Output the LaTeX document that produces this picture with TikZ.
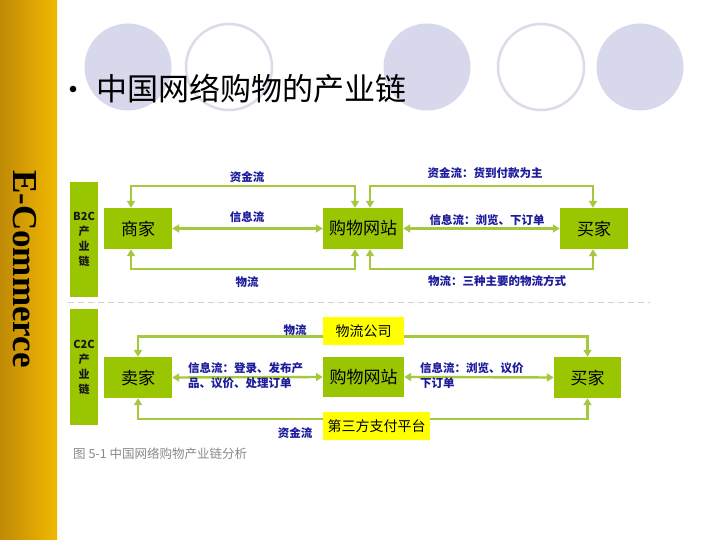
\documentclass[tikz,border=0pt]{standalone}
\usepackage{fontspec}
\setmainfont{Liberation Serif}
\newfontfamily\cjk{Noto Sans CJK SC}
\usetikzlibrary{arrows.meta,calc}
\definecolor{boxgreen}{HTML}{99C600}
\definecolor{linegreen}{HTML}{A6C83C}
\definecolor{boxyellow}{HTML}{FFFF00}
\definecolor{labblue}{HTML}{1C1C9C}
\definecolor{lav}{HTML}{D8D8EC}
\definecolor{lavline}{HTML}{DCDCE8}
\definecolor{goldL}{HTML}{BF8A06}
\definecolor{goldR}{HTML}{F2B800}
\definecolor{capgray}{HTML}{8A8A8A}
\definecolor{dashgray}{HTML}{CFCFCF}
\begin{document}
\begin{tikzpicture}[x=1pt,y=-1pt,
  gbox/.style={fill=boxgreen,draw=none,inner sep=0pt,minimum height=41pt,
    font=\cjk\fontsize{17}{17}\selectfont},
  ybox/.style={fill=boxyellow,draw=none,inner sep=0pt,minimum height=28pt,
    font=\cjk\fontsize{14}{14}\selectfont},
  sidebox/.style={fill=boxgreen,draw=none,inner sep=0pt,minimum width=28pt,
    align=center,text=black!90,font=\cjk\bfseries\fontsize{11}{15}\selectfont},
  flow/.style={draw=linegreen,line width=2.4pt,
    arrows={-Triangle[length=7pt,width=8pt]}},
  flowb/.style={draw=linegreen,line width=2.4pt,
    arrows={Triangle[length=7pt,width=8pt]-Triangle[length=7pt,width=8pt]}},
  lab/.style={text=labblue,inner sep=0pt,font=\cjk\bfseries\fontsize{11.5}{15.5}\selectfont},
  fullcirc/.style={fill=lav,draw=none},
  ringcirc/.style={draw=lavline,line width=2.5pt,fill=white}
]
\useasboundingbox (0,0) rectangle (720,540);
\fill[white] (0,0) rectangle (720,540);
% left gold bar
\shade[left color=goldL,right color=goldR] (0,0) rectangle (57,540);
\node[rotate=-90,inner sep=0pt,font=\bfseries\fontsize{35}{35}\selectfont] (ecom) at (25,269) {E-Commerce};
% decorative circles
\fill[fullcirc] (128,67) circle (43.5);
\draw[ringcirc] (229,67) circle (43);
\fill[fullcirc] (427,67) circle (43.5);
\draw[ringcirc] (541,67) circle (43);
\fill[fullcirc] (640,67) circle (43.5);
% title
\fill (73,89) circle (3.3);
\node[anchor=west,inner sep=0pt,font=\cjk\fontsize{31}{31}\selectfont] (title) at (96,89) {中国网络购物的产业链};

% ---------- B2C ----------
\node[sidebox,minimum height=115pt] (b2c) at (84,239.5) {B2C\\产\\业\\链};
\node[gbox,minimum width=68pt] (sj) at (138,228.5) {商家};
\node[gbox,minimum width=80pt] (gw1) at (363,228.5) {购物网站};
\node[gbox,minimum width=68pt] (mj1) at (594,228.5) {买家};

\coordinate (rowA) at (0,186);
\coordinate (rowB) at (0,269);
\coordinate (a1) at ($(sj.north)+(-7,0)$);
\coordinate (b1) at ($(gw1.north)+(-8,0)$);
\coordinate (c1) at ($(gw1.north)+(7,0)$);
\coordinate (d1) at ($(mj1.north)+(-1,0)$);
\coordinate (a2) at ($(sj.south)+(-7,0)$);
\coordinate (b2) at ($(gw1.south)+(-8,0)$);
\coordinate (c2) at ($(gw1.south)+(7,0)$);
\coordinate (d2) at ($(mj1.south)+(-1,0)$);

\draw[flowb] (a1) |- (rowA -| b1) -- (b1);
\draw[flowb] (sj.east) -- (gw1.west);
\draw[flowb] (a2) |- (rowB -| b2) -- (b2);
\draw[flowb] (c1) |- (rowA -| d1) -- (d1);
\draw[flowb] (gw1.east) -- (mj1.west);
\draw[flowb] (c2) |- (rowB -| d2) -- (d2);

\node[lab] (l1) at (247,177) {资金流};
\node[lab] (l2) at (247,217) {信息流};
\node[lab] (l3) at (247,282) {物流};
\node[lab] (l4) at (485,173) {资金流：货到付款为主};
\node[lab] (l5) at (487,220) {信息流：浏览、下订单};
\node[lab] (l6) at (497,281) {物流：三种主要的物流方式};

% separator
\draw[dashgray,line width=0.8pt,dash pattern=on 6pt off 4pt] (68,302) -- (650,302);

% ---------- C2C ----------
\node[sidebox,minimum height=116pt] (c2c) at (84,367) {C2C\\产\\业\\链};
\node[gbox,minimum width=68pt] (ms) at (138,377.5) {卖家};
\node[gbox,minimum width=81pt,minimum height=40pt] (gw2) at (363.5,377) {购物网站};
\node[gbox,minimum width=67pt] (mj2) at (587.5,377.5) {买家};
\node[ybox,minimum width=81pt] (wl) at (363.5,331) {物流公司};
\node[ybox,minimum width=107pt] (zf) at (376.5,426) {第三方支付平台};

\coordinate (w1) at ($(wl.west)+(0,5.5)$);
\coordinate (w2) at ($(wl.east)+(0,5.5)$);
\coordinate (z1) at ($(zf.west)+(0,-7)$);
\coordinate (z2) at ($(zf.east)+(0,-7)$);

\draw[flow] (w1) -| (ms.north);
\draw[flowb] (ms.east) -- (gw2.west);
\draw[flow] (z1) -| (ms.south);
\draw[flow] (w2) -| (mj2.north);
\draw[flowb] (gw2.east) -- (mj2.west);
\draw[flow] (z2) -| (mj2.south);

\node[lab] (l7) at (295,330) {物流};
\node[lab] (l8) at (295,433) {资金流};
\node[lab,anchor=north west,align=left] (l9) at (188,362) {信息流：登录、发布产\\品、议价、处理订单};
\node[lab,anchor=north west,align=left] (l10) at (420,362) {信息流：浏览、议价\\下订单};

% caption
\node[anchor=west,inner sep=0pt,text=capgray,font=\cjk\fontsize{12.5}{12.5}\selectfont] (cap) at (73,454) {图 5-1 中国网络购物产业链分析};
\end{tikzpicture}
\end{document}
